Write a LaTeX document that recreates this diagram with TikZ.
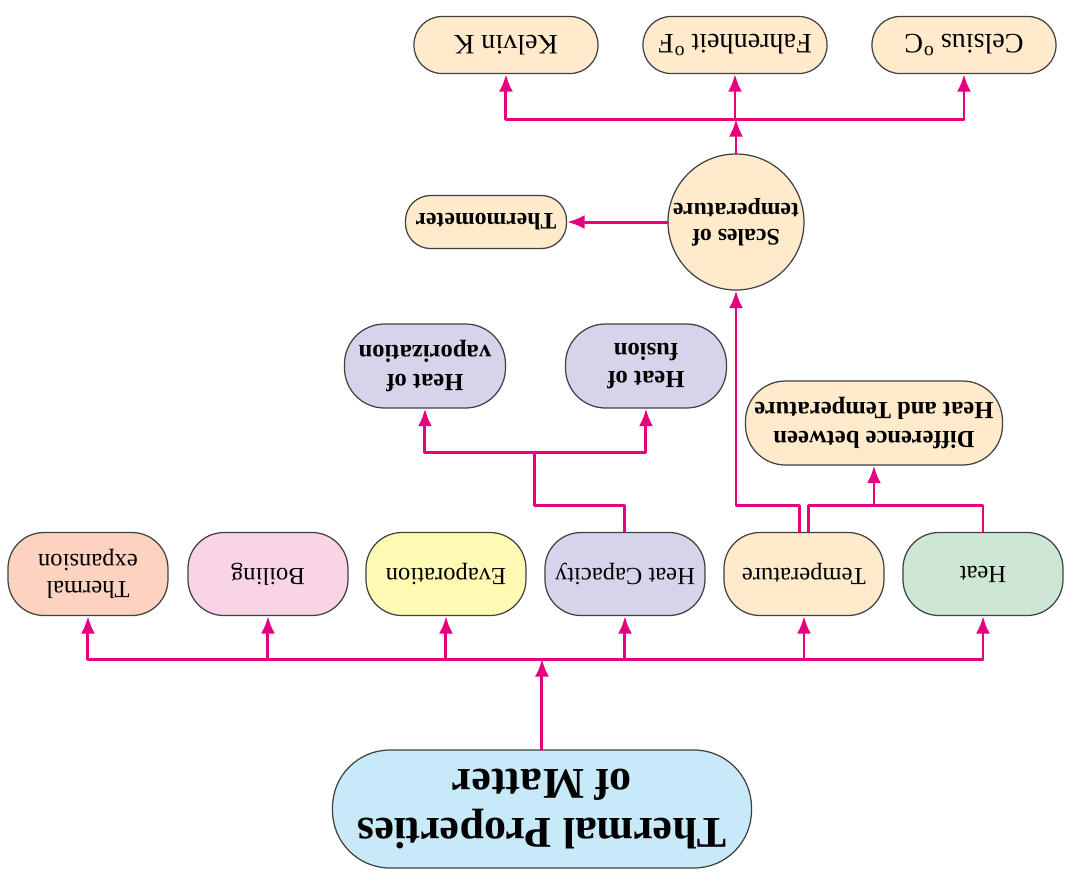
\documentclass[tikz,border=0pt]{standalone}
\usepackage{fontspec}
\setmainfont{Liberation Serif}
\usetikzlibrary{arrows.meta,calc}
\definecolor{magent}{HTML}{E6007E}
\definecolor{skyfill}{HTML}{C7E9F8}
\definecolor{peach}{HTML}{FCD2C0}
\definecolor{blush}{HTML}{F9D4E6}
\definecolor{lemon}{HTML}{FFFAB3}
\definecolor{lilac}{HTML}{D7D3EA}
\definecolor{cream}{HTML}{FFEACC}
\definecolor{mint}{HTML}{CEE7D5}
\definecolor{edge}{HTML}{404040}

\begin{document}
\begin{tikzpicture}[rotate=180,transform shape,line cap=round,line join=round,
  box/.style={draw=edge,line width=0.7pt,align=center,inner sep=0pt},
  rowbox/.style={box,minimum width=3.2cm,minimum height=1.66cm,rounded corners=0.72cm,
    font=\fontsize{14}{15}\selectfont},
  pill/.style={box,fill=cream,minimum width=3.68cm,minimum height=1.14cm,rounded corners=0.56cm,
    font=\fontsize{16}{18}\selectfont},
  subbox/.style={box,minimum height=1.68cm,rounded corners=0.8cm,
    font=\bfseries\fontsize{14}{16}\selectfont},
  link/.style={magent,line width=1.7pt},
  arrow/.style={link,-{Latex[length=3.5mm,width=2.8mm]}}]
  \useasboundingbox (0,0) rectangle (21.3,17.54);

  % Root and first row.
  \node[box,fill=skyfill,minimum width=8.38cm,minimum height=2.36cm,rounded corners=1.15cm,
    font=\bfseries\fontsize{25}{28}\selectfont] (main) at (10.46,16.18)
    {Thermal Properties\\of Matter};
  \node[rowbox,fill=mint]  (heat)  at (1.64,11.48) {Heat};
  \node[rowbox,fill=cream] (temp)  at (5.22,11.48) {Temperature};
  \node[rowbox,fill=lilac] (hcap)  at (8.80,11.48) {Heat Capacity};
  \node[rowbox,fill=lemon] (evap)  at (12.38,11.48) {Evaporation};
  \node[rowbox,fill=blush] (boil)  at (15.94,11.48) {Boiling};
  \node[rowbox,fill=peach] (therm) at (19.54,11.48) {Thermal\\expansion};

  \coordinate (mb) at (10.46,13.18);
  \draw[arrow] (main.south) -- (mb);
  \draw[link] (heat.north |- mb) -- (therm.north |- mb);
  \foreach \n in {heat,temp,hcap,evap,boil,therm}
    \draw[arrow] (\n.north |- mb) -- (\n.north);

  % Second row.
  \node[subbox,fill=cream,minimum width=5.14cm] (diff) at (3.82,8.46)
    {Difference between\\Heat and Temperature};
  \node[subbox,fill=lilac,minimum width=3.22cm] (fusion) at (8.38,7.32) {Heat of\\fusion};
  \node[subbox,fill=lilac,minimum width=3.22cm] (vapor) at (12.80,7.32) {Heat of\\vaporization};

  \coordinate (tj) at (5.12,10.10);
  \coordinate (hc) at (10.60,9.04);
  \draw[link] ([xshift=-0.9mm]temp.south) -- ([xshift=-0.9mm]temp.south |- tj) -| (heat.south);
  \draw[arrow] (diff.north |- tj) -- (diff.north);
  \draw[link] (hcap.south) -- (hcap.south |- tj) -| (hc);
  \draw[arrow] (hc) -| (vapor.north);
  \draw[arrow] (hc) -| (fusion.north);

  % Scales of temperature.
  \node[box,fill=cream,circle,minimum size=2.72cm,
    font=\bfseries\fontsize{13.5}{15}\selectfont] (scales) at (6.58,4.44)
    {Scales of\\temperature};
  \node[box,fill=cream,minimum width=3.22cm,minimum height=1.06cm,rounded corners=0.5cm,
    font=\bfseries\fontsize{13.5}{15}\selectfont] (thermo) at (11.58,4.44) {Thermometer};
  \draw[arrow] ([xshift=0.9mm]temp.south) -- ([xshift=0.9mm]temp.south |- tj) -| (scales.north);
  \draw[arrow] (scales.east) -- (thermo.west);

  \node[pill] (cels) at (2.02,0.90) {Celsius $^{\mathrm{o}}$C};
  \node[pill] (fahr) at (6.60,0.90) {Fahrenheit $^{\mathrm{o}}$F};
  \node[pill] (kelv) at (11.18,0.90) {Kelvin K};

  \coordinate (sb) at (6.58,2.38);
  \draw[arrow] (scales.south) -- (sb);
  \draw[link] (cels.north |- sb) -- (kelv.north |- sb);
  \foreach \n in {cels,fahr,kelv}
    \draw[arrow] (\n.north |- sb) -- (\n.north);
\end{tikzpicture}
\end{document}
